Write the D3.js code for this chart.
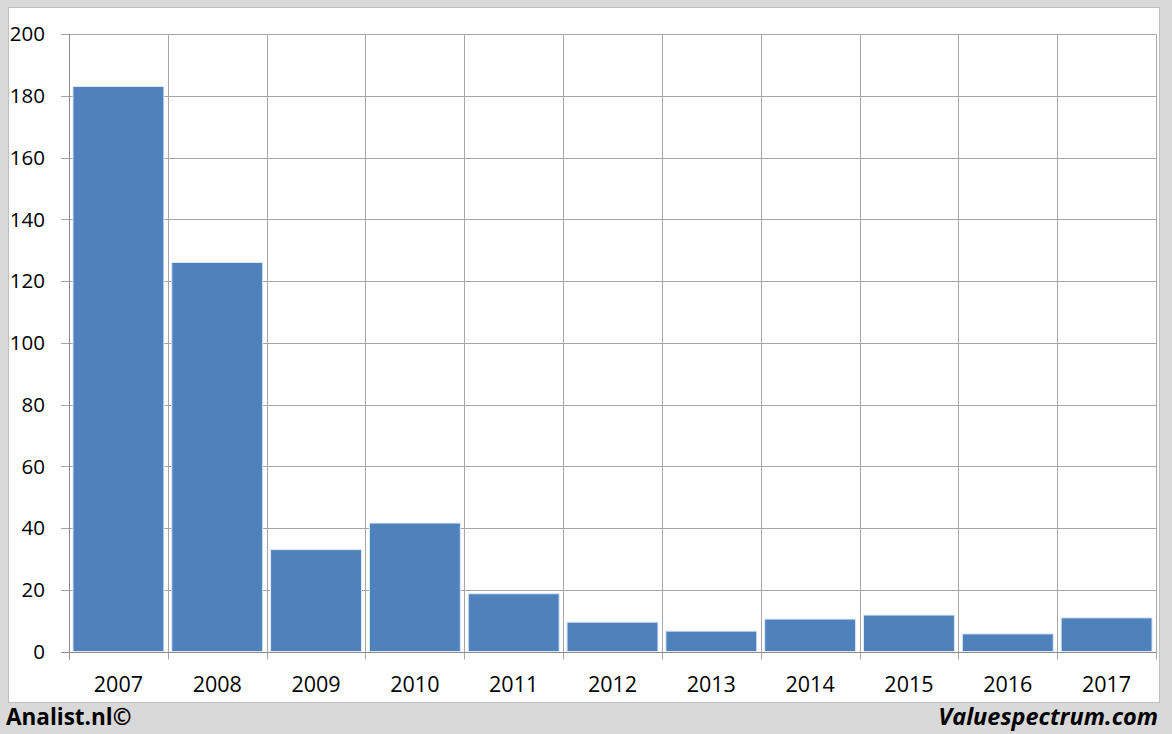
<!DOCTYPE html>
<html><head><meta charset="utf-8">
<script src="https://cdn.jsdelivr.net/npm/d3@7"></script>
<style>body{margin:0;background:#d9d9d9;}svg{display:block;}</style>
</head><body>
<svg id="c" width="1172" height="734"></svg>
<script>
const categories = ["2007","2008","2009","2010","2011","2012","2013","2014","2015","2016","2017"];
const values = [183, 126, 33, 41.6, 18.7, 9.5, 6.6, 10.5, 11.8, 5.7, 10.9];
const yTicks = [0,20,40,60,80,100,120,140,160,180,200];

const svg = d3.select("#c");
const W = 1172, H = 734;
svg.append("rect").attr("width", W).attr("height", H).attr("fill", "#d9d9d9");
svg.append("rect").attr("x", 8.5).attr("y", 7.5).attr("width", 1151).attr("height", 695)
  .attr("fill", "#fff").attr("stroke", "#bfbfbf");

const m = {l: 69, r: 1156, t: 34, b: 651.5};
const x = d3.scaleBand().domain(categories).range([m.l, m.r]).paddingInner(0.08).paddingOuter(0.04);
const xg = d3.scaleBand().domain(categories).range([m.l, m.r]);
const y = d3.scaleLinear().domain([0, 200]).range([m.b, m.t]);

const gridColor = "#a6a6a6";
const font = "'Open Sans', 'Liberation Sans', sans-serif";

svg.append("g").selectAll("line").data(yTicks).join("line")
  .attr("x1", m.l - 8).attr("x2", m.r)
  .attr("y1", d => Math.round(y(d)) + 0.5).attr("y2", d => Math.round(y(d)) + 0.5)
  .attr("stroke", gridColor).attr("stroke-width", 1);

const bounds = categories.map(c => xg(c)).concat([m.r]);
svg.append("g").selectAll("line").data(bounds).join("line")
  .attr("x1", d => Math.round(d) + 0.5).attr("x2", d => Math.round(d) + 0.5)
  .attr("y1", m.t).attr("y2", m.b + 8)
  .attr("stroke", gridColor).attr("stroke-width", 1);

svg.append("g").selectAll("rect").data(values).join("rect")
  .attr("x", (d, i) => x(categories[i]))
  .attr("width", x.bandwidth())
  .attr("y", d => y(d))
  .attr("height", d => y(0) - y(d))
  .attr("fill", "#4f81bd")
  .attr("stroke", "#dfe8f3").attr("stroke-width", 1);

svg.append("line").attr("x1", m.l - 8).attr("x2", m.r).attr("y1", Math.round(m.b) + 0.5).attr("y2", Math.round(m.b) + 0.5)
  .attr("stroke", "#8c8c8c");
svg.append("line").attr("x1", m.l + 0.5).attr("x2", m.l + 0.5).attr("y1", m.t).attr("y2", m.b + 8)
  .attr("stroke", "#8c8c8c");

svg.append("g").selectAll("text").data(yTicks).join("text")
  .attr("x", 45).attr("y", d => y(d)).attr("dy", "0.36em")
  .attr("text-anchor", "end").attr("font-family", font).attr("font-size", 20.5)
  .attr("fill", "#000").text(d => d);

svg.append("g").selectAll("text").data(categories).join("text")
  .attr("x", d => xg(d) + xg.bandwidth() / 2).attr("y", 692)
  .attr("text-anchor", "middle").attr("font-family", font).attr("font-size", 21.5)
  .attr("fill", "#000").text(d => d);

svg.append("text").attr("x", 6).attr("y", 725).attr("font-family", font).attr("font-size", 22.5)
  .attr("font-weight", "bold").attr("fill", "#000").text("Analist.nl©");
svg.append("text").attr("x", 1158).attr("y", 725).attr("text-anchor", "end").attr("font-family", font).attr("font-size", 23.5)
  .attr("font-weight", "bold").attr("font-style", "italic").attr("fill", "#000").text("Valuespectrum.com");
</script>
</body></html>
